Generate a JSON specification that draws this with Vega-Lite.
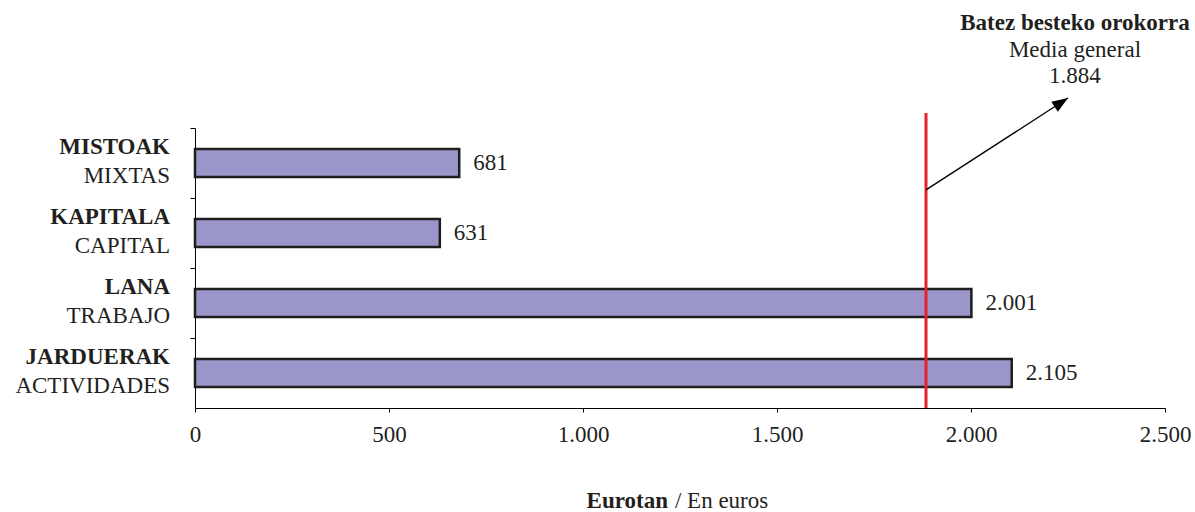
{
  "$schema": "https://vega.github.io/schema/vega-lite/v6.json",
  "width": 970,
  "height": 280,
  "autosize": {"type": "none"},
  "padding": {"left": 195, "top": 128, "right": 30, "bottom": 104},
  "background": "white",
  "config": {
    "view": {"stroke": null},
    "font": "Liberation Serif",
    "locale": {"number": {"decimal": ",", "thousands": ".", "grouping": [3], "currency": ["", " €"]}},
    "scale": {"bandPaddingInner": 0.6, "bandPaddingOuter": 0.3},
    "text": {"font": "Liberation Serif", "fontSize": 23, "color": "#231f20"}
  },
  "datasets": {
    "main": [
      {"eu": "MISTOAK", "es": "MIXTAS", "v": 681},
      {"eu": "KAPITALA", "es": "CAPITAL", "v": 631},
      {"eu": "LANA", "es": "TRABAJO", "v": 2001},
      {"eu": "JARDUERAK", "es": "ACTIVIDADES", "v": 2105}
    ],
    "one": [{"mean": 1884}]
  },
  "resolve": {"scale": {"y": "independent"}, "axis": {"y": "independent"}},
  "layer": [
    {
      "data": {"name": "main"},
      "mark": {"type": "bar", "fill": "#9b96c9", "stroke": "#1e1e1e", "strokeWidth": 2.5},
      "encoding": {
        "y": {"field": "eu", "type": "nominal", "sort": null,
          "axis": {"labels": false, "title": null, "domainColor": "#000", "domainWidth": 1, "tickColor": "#000", "tickSize": 5, "bandPosition": -0.75, "grid": false}},
        "x": {"field": "v", "type": "quantitative",
          "scale": {"domain": [0, 2500], "nice": false},
          "axis": {"values": [0, 500, 1000, 1500, 2000, 2500], "format": ",d", "title": null, "grid": false,
            "domainColor": "#000", "domainWidth": 1, "tickColor": "#000", "tickSize": 4,
            "labelFont": "Liberation Serif", "labelFontSize": 23, "labelColor": "#231f20", "labelPadding": 11, "labelFlush": false}}
      }
    },
    {
      "data": {"name": "main"},
      "mark": {"type": "text", "align": "left", "baseline": "middle", "dx": 14},
      "encoding": {
        "y": {"field": "eu", "type": "nominal", "sort": null, "axis": null},
        "x": {"field": "v", "type": "quantitative"},
        "text": {"field": "v", "type": "quantitative", "format": ",d"}
      }
    },
    {
      "data": {"name": "main"},
      "mark": {"type": "text", "align": "right", "baseline": "alphabetic", "dy": -9, "fontWeight": "bold"},
      "encoding": {
        "y": {"field": "eu", "type": "nominal", "sort": null, "axis": null},
        "x": {"datum": -64.4, "type": "quantitative"},
        "text": {"field": "eu", "type": "nominal"}
      }
    },
    {
      "data": {"name": "main"},
      "mark": {"type": "text", "align": "right", "baseline": "alphabetic", "dy": 20},
      "encoding": {
        "y": {"field": "eu", "type": "nominal", "sort": null, "axis": null},
        "x": {"datum": -64.4, "type": "quantitative"},
        "text": {"field": "es", "type": "nominal"}
      }
    },
    {
      "data": {"name": "one"},
      "mark": {"type": "rule", "color": "#e8202a", "strokeWidth": 3},
      "encoding": {
        "x": {"field": "mean", "type": "quantitative"},
        "y": {"datum": 0, "type": "quantitative", "scale": {"domain": [0, 1], "nice": false}, "axis": null},
        "y2": {"datum": 1.054}
      }
    },
    {
      "data": {"name": "one"},
      "mark": {"type": "rule", "color": "#000", "strokeWidth": 1.3},
      "encoding": {
        "x": {"field": "mean", "type": "quantitative"},
        "x2": {"datum": 2250},
        "y": {"datum": 0.779, "type": "quantitative", "scale": {"domain": [0, 1], "nice": false}, "axis": null},
        "y2": {"datum": 1.107}
      }
    },
    {
      "data": {"name": "one"},
      "mark": {"type": "point", "shape": "M0,0L-0.75,2L0.75,2Z", "filled": true, "color": "#000", "opacity": 1, "size": 256, "angle": 57},
      "encoding": {
        "x": {"datum": 2250, "type": "quantitative"},
        "y": {"datum": 1.107, "type": "quantitative", "scale": {"domain": [0, 1], "nice": false}, "axis": null}
      }
    },
    {
      "data": {"name": "one"},
      "mark": {"type": "text", "align": "center", "baseline": "alphabetic", "fontWeight": "bold", "text": "Batez besteko orokorra"},
      "encoding": {
        "x": {"datum": 2268, "type": "quantitative"},
        "y": {"datum": 1.35, "type": "quantitative", "scale": {"domain": [0, 1], "nice": false}, "axis": null}
      }
    },
    {
      "data": {"name": "one"},
      "mark": {"type": "text", "align": "center", "baseline": "alphabetic", "lineHeight": 26},
      "encoding": {
        "x": {"datum": 2268, "type": "quantitative"},
        "y": {"datum": 1.254, "type": "quantitative", "scale": {"domain": [0, 1], "nice": false}, "axis": null},
        "text": {"value": ["Media general", "1.884"]}
      }
    },
    {
      "data": {"name": "one"},
      "mark": {"type": "text", "align": "right", "baseline": "alphabetic", "fontWeight": "bold", "text": "Eurotan"},
      "encoding": {
        "x": {"datum": 1219, "type": "quantitative"},
        "y": {"datum": -0.357, "type": "quantitative", "scale": {"domain": [0, 1], "nice": false}, "axis": null}
      }
    },
    {
      "data": {"name": "one"},
      "mark": {"type": "text", "align": "left", "baseline": "alphabetic", "text": "/ En euros"},
      "encoding": {
        "x": {"datum": 1237, "type": "quantitative"},
        "y": {"datum": -0.357, "type": "quantitative", "scale": {"domain": [0, 1], "nice": false}, "axis": null}
      }
    }
  ]
}
